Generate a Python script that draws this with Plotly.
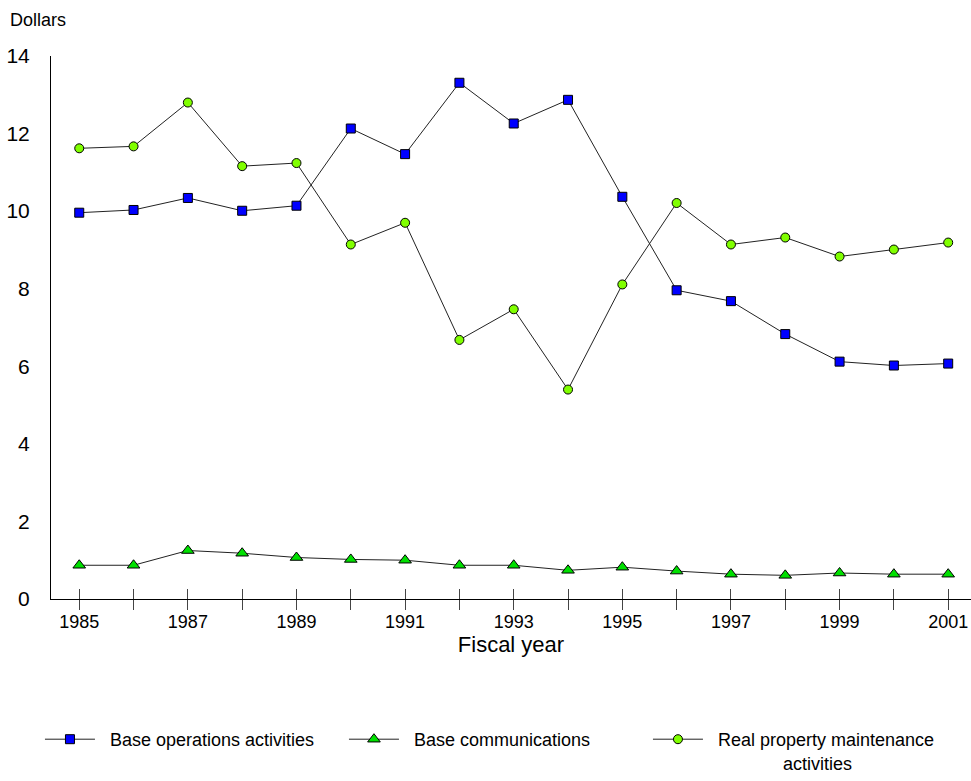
import plotly.graph_objects as go

years = list(range(1985, 2002))
base_operations = [9.96, 10.03, 10.34, 10.01, 10.14, 12.13, 11.47, 13.31, 12.26, 12.87,
                   10.37, 7.96, 7.68, 6.83, 6.12, 6.02, 6.07]
base_communications = [0.87, 0.87, 1.25, 1.18, 1.07, 1.02, 1.00, 0.87, 0.87, 0.74,
                       0.82, 0.72, 0.64, 0.61, 0.67, 0.64, 0.64]
real_property = [11.62, 11.67, 12.80, 11.16, 11.24, 9.14, 9.70, 6.68, 7.47, 5.40,
                 8.11, 10.21, 9.14, 9.32, 8.83, 9.01, 9.19]
x_tick_labels = [str(y) for y in range(1985, 2002, 2)]
y_tick_values = list(range(0, 15, 2))

FONT = "Liberation Sans, Arial, sans-serif"
NB = "\u00a0"
XR = [1984.48, 2001.42]

fig = go.Figure()
fig.add_trace(go.Scatter(
    x=years, y=base_operations, mode="lines+markers",
    name=NB * 2 + "Base operations activities",
    line=dict(color="#222222", width=1),
    marker=dict(symbol="square", size=9, color="#0000FF", line=dict(color="#000000", width=1)),
))
fig.add_trace(go.Scatter(
    x=years, y=base_communications, mode="lines+markers",
    name=NB * 2 + "Base communications",
    line=dict(color="#222222", width=1),
    marker=dict(symbol="triangle-up", size=11, color="#00E000", line=dict(color="#000000", width=1)),
))
fig.add_trace(go.Scatter(
    x=years, y=real_property, mode="lines+markers",
    name=NB * 2 + "Real property maintenance<br>" + NB * 15 + "activities",
    line=dict(color="#222222", width=1),
    marker=dict(symbol="circle", size=9, color="#80FF00", line=dict(color="#000000", width=1)),
))
# invisible traces to activate overlay axes used for crossing tick marks
fig.add_trace(go.Scatter(x=[years[0]], y=[None], xaxis="x2", showlegend=False, hoverinfo="skip"))
fig.add_trace(go.Scatter(x=[years[0]], y=[None], xaxis="x3", showlegend=False, hoverinfo="skip"))

fig.update_layout(
    width=971, height=781,
    margin=dict(l=51, r=0, t=56, b=178),
    paper_bgcolor="white", plot_bgcolor="white",
    font=dict(family=FONT, color="#000000"),
    showlegend=True,
    legend=dict(
        orientation="h", x=-0.012, xanchor="left", y=-0.225, yanchor="top",
        font=dict(size=18, family=FONT), entrywidth=239, itemwidth=50,
        tracegroupgap=0, valign="top",
    ),
    xaxis=dict(
        range=XR, tickmode="array",
        tickvals=[int(t) for t in x_tick_labels], ticktext=x_tick_labels,
        showgrid=False, zeroline=False, showline=True, linecolor="#000000", linewidth=1,
        ticks="", tickfont=dict(size=18), ticklabelstandoff=6,
        title=dict(text="Fiscal year", font=dict(size=22), standoff=2),
    ),
    xaxis2=dict(
        overlaying="x", range=XR, dtick=1, tick0=1985, side="bottom",
        showgrid=False, zeroline=False, showline=False, showticklabels=False,
        ticks="inside", ticklen=10, tickcolor="#444444",
    ),
    xaxis3=dict(
        overlaying="x", range=XR, dtick=1, tick0=1985, side="bottom",
        showgrid=False, zeroline=False, showline=False, showticklabels=False,
        ticks="outside", ticklen=10, tickcolor="#444444",
    ),
    yaxis=dict(
        range=[0, 14], tickvals=y_tick_values, showgrid=False, zeroline=False,
        showline=True, linecolor="#000000", linewidth=1, ticks="",
        tickfont=dict(size=21), ticklabelstandoff=16,
    ),
    annotations=[dict(
        text="Dollars", xref="paper", yref="paper", x=-0.0467, y=1.0658,
        xanchor="left", yanchor="middle", showarrow=False, font=dict(size=18, family=FONT),
    )],
)

fig.write_html("out.html", config={"displayModeBar": False},
               post_script="document.body.style.margin='0';")
